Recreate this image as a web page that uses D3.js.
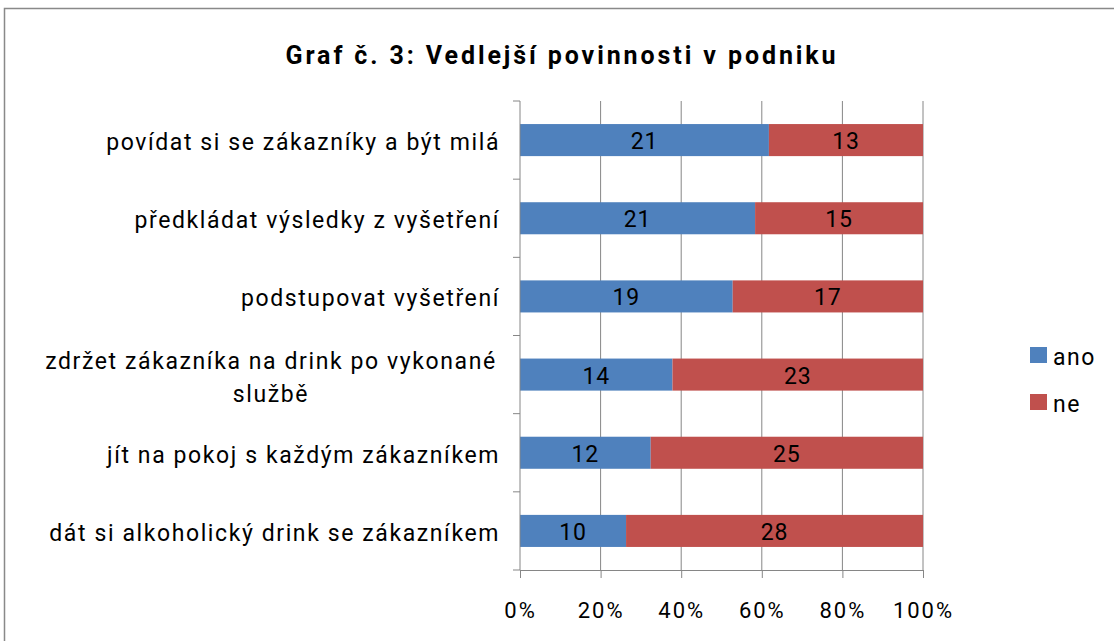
<!DOCTYPE html>
<html>
<head>
<meta charset="utf-8">
<script src="https://cdn.jsdelivr.net/npm/d3@7"></script>
<style>
  body { margin: 0; background: #fff; }
  svg text { font-family: Roboto, "Open Sans", sans-serif; fill: #000; }
</style>
</head>
<body>
<svg id="chart" width="1114" height="641"></svg>
<script>
// categories top -> bottom
const categories = [
  "povídat si se zákazníky a být milá",
  "předkládat výsledky z vyšetření",
  "podstupovat vyšetření",
  "zdržet zákazníka na drink po vykonané službě",
  "jít na pokoj s každým zákazníkem",
  "dát si alkoholický drink se zákazníkem"
];
const ano = [21, 21, 19, 14, 12, 10];
const ne = [13, 15, 17, 23, 25, 28];
const seriesNames = ["ano", "ne"];
const colors = ["#4F81BD", "#C0504D"];
const xTicks = [0, 0.2, 0.4, 0.6, 0.8, 1];

const svg = d3.select("#chart");

// outer frame
svg.append("rect")
  .attr("x", 4.5).attr("y", 8.5)
  .attr("width", 1120).attr("height", 650)
  .attr("fill", "none").attr("stroke", "#898989").attr("stroke-width", 1.5);

svg.append("text")
  .attr("x", 562).attr("y", 64)
  .attr("text-anchor", "middle")
  .attr("font-size", 25).attr("font-weight", "bold")
  .attr("letter-spacing", 2.9)
  .text("Graf č. 3: Vedlejší povinnosti v podniku");

const plotLeft = 520, plotRight = 923, plotTop = 101, plotBottom = 570;

const x = d3.scaleLinear().domain([0, 1]).range([plotLeft, plotRight]);
const y = d3.scaleBand().domain(categories).range([plotTop, plotBottom]).paddingInner(0.59).paddingOuter(0.295);

// gridlines
svg.append("g").selectAll("line")
  .data(xTicks.slice(1))
  .join("line")
  .attr("x1", d => x(d)).attr("x2", d => x(d))
  .attr("y1", plotTop).attr("y2", plotBottom)
  .attr("stroke", "#868686").attr("stroke-width", 1);

// rows
const rows = categories.map((c, i) => {
  const tot = ano[i] + ne[i];
  return [
    { cat: c, v: ano[i], x0: 0, x1: ano[i] / tot, s: 0 },
    { cat: c, v: ne[i], x0: ano[i] / tot, x1: 1, s: 1 }
  ];
}).flat();

svg.append("g").selectAll("rect")
  .data(rows)
  .join("rect")
  .attr("x", d => x(d.x0))
  .attr("y", d => y(d.cat))
  .attr("width", d => x(d.x1) - x(d.x0))
  .attr("height", y.bandwidth())
  .attr("fill", d => colors[d.s]);

svg.append("g").selectAll("text")
  .data(rows)
  .join("text")
  .attr("x", d => (x(d.x0) + x(d.x1)) / 2)
  .attr("y", d => y(d.cat) + y.bandwidth() / 2 + 9)
  .attr("text-anchor", "middle")
  .attr("font-size", 23).attr("letter-spacing", 0.8)
  .text(d => d.v);

// bottom axis
const xAxis = svg.append("g")
  .attr("transform", `translate(0,${plotBottom})`)
  .call(d3.axisBottom(x).tickValues(xTicks).tickFormat(d3.format(".0%")).tickSize(8).tickPadding(24));
xAxis.select(".domain").attr("stroke", "#868686").attr("d", `M${plotLeft},0.5H${plotRight}`);
xAxis.selectAll(".tick line").attr("stroke", "#868686");
xAxis.selectAll(".tick text").attr("font-size", 22).attr("letter-spacing", 2)
  .attr("font-family", "Roboto, sans-serif").attr("fill", "#000");

// left axis line and category ticks
const step = (plotBottom - plotTop) / categories.length;
svg.append("line")
  .attr("x1", plotLeft).attr("x2", plotLeft).attr("y1", plotTop).attr("y2", plotBottom)
  .attr("stroke", "#868686");
svg.append("g").selectAll("line")
  .data(d3.range(categories.length + 1))
  .join("line")
  .attr("x1", plotLeft - 7).attr("x2", plotLeft)
  .attr("y1", i => plotTop + i * step).attr("y2", i => plotTop + i * step)
  .attr("stroke", "#868686");

// category labels
const labelG = svg.append("g");
categories.forEach(c => {
  const cy = y(c) + y.bandwidth() / 2;
  if (c.length > 40) {
    const words = c.split(" ");
    const l1 = words.slice(0, -1).join(" ");
    const l2 = words[words.length - 1];
    const t = labelG.append("text")
      .attr("x", 271).attr("text-anchor", "middle")
      .attr("font-size", 23).attr("letter-spacing", 1.6);
    t.append("tspan").attr("x", 271).attr("y", cy - 6).text(l1);
    t.append("tspan").attr("x", 271).attr("y", cy + 27).text(l2);
  } else {
    labelG.append("text")
      .attr("x", 500).attr("y", cy + 10)
      .attr("text-anchor", "end")
      .attr("font-size", 23).attr("letter-spacing", 1.6)
      .text(c);
  }
});

// legend
const legend = svg.append("g");
seriesNames.forEach((s, i) => {
  const ly = 355 + i * 47;
  legend.append("rect")
    .attr("x", 1030).attr("y", ly - 8)
    .attr("width", 17).attr("height", 16)
    .attr("fill", colors[i]);
  legend.append("text")
    .attr("x", 1053).attr("y", ly + 10)
    .attr("font-size", 23).attr("letter-spacing", 1.5)
    .text(s);
});
</script>
</body>
</html>
